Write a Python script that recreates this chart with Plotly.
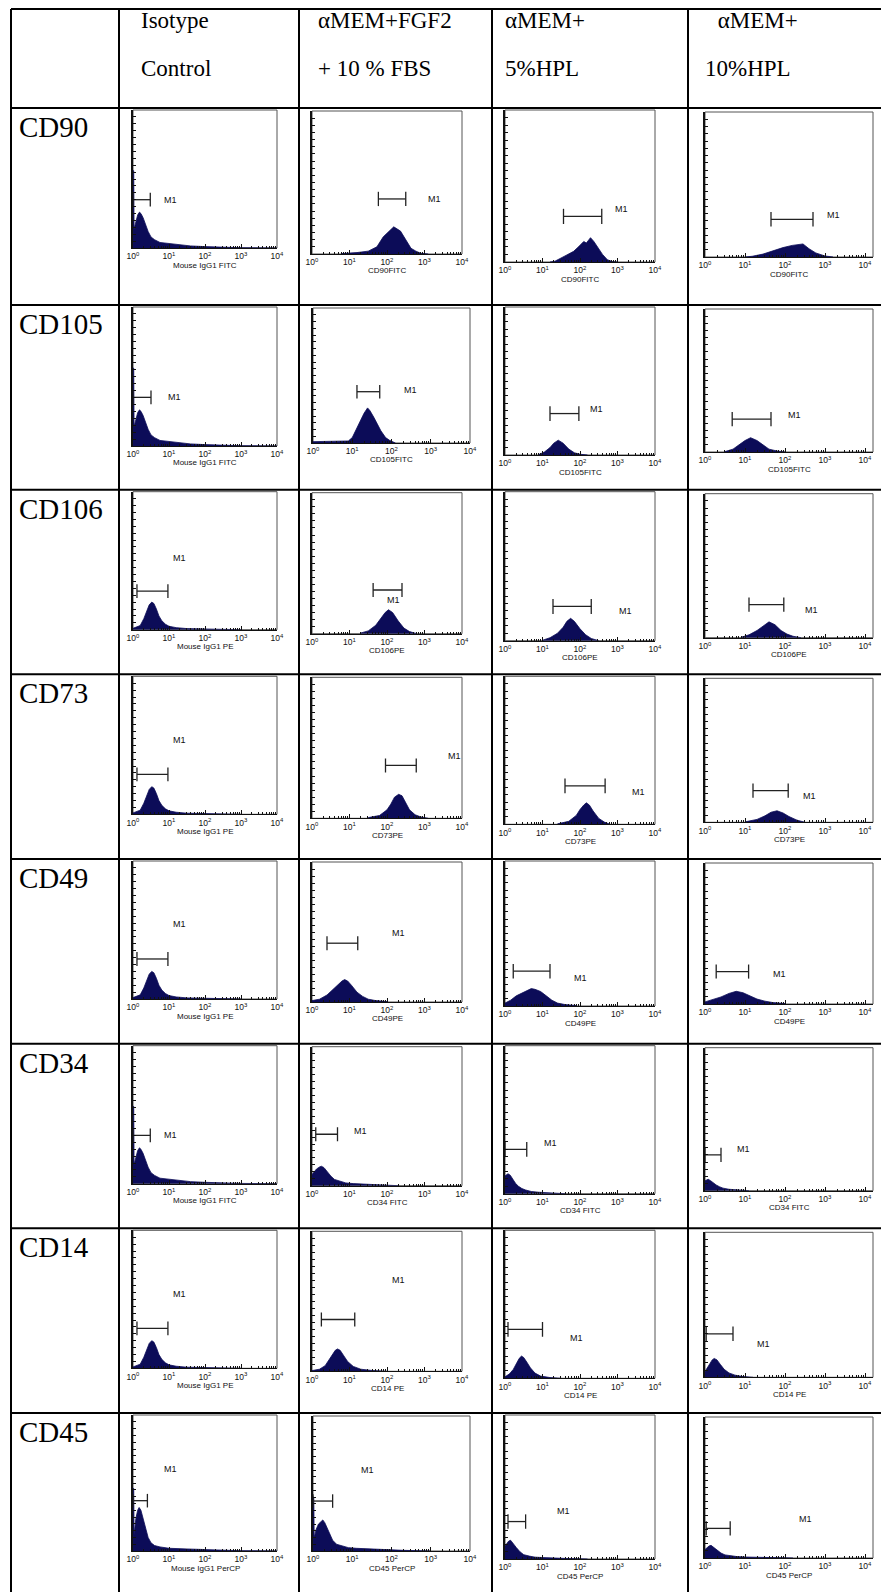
import numpy as np
import plotly.graph_objects as go

W, H = 881, 1592

# ---------------- table text ----------------
markers = ["CD90", "CD105", "CD106", "CD73", "CD49", "CD34", "CD14", "CD45"]
header_line1 = ["Isotype", "αMEM+FGF2", "αMEM+", " αMEM+"]
header_line2 = ["Control", "+ 10 % FBS", "5%HPL", "10%HPL"]
axis_labels = [
    ["Mouse IgG1 FITC", "CD90FITC", "CD90FITC", "CD90FITC"],
    ["Mouse IgG1 FITC", "CD105FITC", "CD105FITC", "CD105FITC"],
    ["Mouse IgG1 PE", "CD106PE", "CD106PE", "CD106PE"],
    ["Mouse IgG1 PE", "CD73PE", "CD73PE", "CD73PE"],
    ["Mouse IgG1 PE", "CD49PE", "CD49PE", "CD49PE"],
    ["Mouse IgG1 FITC", "CD34 FITC", "CD34 FITC", "CD34 FITC"],
    ["Mouse IgG1 PE", "CD14 PE", "CD14 PE", "CD14 PE"],
    ["Mouse IgG1 PerCP", "CD45 PerCP", "CD45 PerCP", "CD45 PerCP"],
]
tick_vals = [0, 1, 2, 3, 4]
tick_text = ["10<sup>0</sup>", "10<sup>1</sup>", "10<sup>2</sup>", "10<sup>3</sup>", "10<sup>4</sup>"]

# ---------------- histograms: x = log10 intensity, y = % of full scale ----------------
iso_fitc_x = [0, 0.02, 0.03, 0.08, 0.13, 0.18, 0.22, 0.28, 0.35, 0.42, 0.5, 0.6, 0.75, 0.9, 1.1, 1.3, 1.6, 2.0, 2.5, 3.0, 4.0]
iso_fitc_y = [56, 56, 14, 20, 24, 26, 25, 22, 17, 12, 8, 6, 4, 3.5, 3, 2.5, 1.5, 1, 0.5, 0.2, 0]
iso_pe_x = [0, 0.2, 0.3, 0.38, 0.45, 0.52, 0.58, 0.65, 0.72, 0.8, 0.9, 1.0, 1.2, 1.5, 2.0, 3.0]
iso_pe_y = [1, 3, 8, 14, 18, 20, 19, 15, 10, 6.5, 4, 2.5, 1.5, 0.8, 0.4, 0]
iso_percp_x = [0, 0.02, 0.03, 0.08, 0.13, 0.17, 0.22, 0.28, 0.35, 0.42, 0.5, 0.6, 0.75, 1.0, 1.5, 2.0, 2.5, 3.0, 4.0]
iso_percp_y = [46, 46, 12, 24, 30, 32, 30, 24, 16, 10, 6, 4, 3, 2, 1.5, 1, 0.5, 0.2, 0]

cd90_fgf_x = [0.8, 1.0, 1.2, 1.5, 1.73, 1.9, 2.09, 2.18, 2.36, 2.5, 2.64, 2.77, 2.9, 3.1]
cd90_fgf_y = [0.3, 0.6, 1, 2, 5, 12, 17, 19, 16, 10, 4, 2, 0.5, 0]
cd90_hpl5_x = [1.2, 1.33, 1.6, 1.83, 1.96, 2.1, 2.17, 2.28, 2.37, 2.46, 2.6, 2.73, 2.86, 3.0]
cd90_hpl5_y = [0, 0.5, 4, 7, 10, 13.5, 12.5, 16, 13.5, 10, 5, 1.5, 0.3, 0]
cd90_hpl10_x = [1.0, 1.18, 1.45, 1.73, 1.95, 2.18, 2.32, 2.45, 2.6, 2.77, 3.0, 3.2]
cd90_hpl10_y = [0, 0.5, 2, 4.5, 6.5, 8, 8.7, 9, 5.7, 2.8, 0.7, 0]

cd105_fgf_x = [0.0, 0.5, 0.9, 1.0, 1.15, 1.3, 1.39, 1.45, 1.55, 1.65, 1.73, 1.85, 1.95, 2.1]
cd105_fgf_y = [1, 1, 1.5, 4, 13, 22, 26, 24, 19, 13, 9, 4, 2, 0]
cd105_hpl5_x = [0.9, 1.05, 1.2, 1.3, 1.42, 1.55, 1.7, 1.85, 2.0, 2.2]
cd105_hpl5_y = [0.3, 2, 5, 8, 10, 8, 4, 1.5, 0.5, 0]
cd105_hpl10_x = [0.5, 0.7, 0.85, 1.0, 1.14, 1.3, 1.45, 1.6, 1.8, 2.0]
cd105_hpl10_y = [0.3, 2, 5, 8, 10, 8, 5, 2, 0.7, 0]

cd106_fgf_x = [1.3, 1.5, 1.7, 1.85, 1.95, 2.04, 2.15, 2.3, 2.45, 2.6, 2.8]
cd106_fgf_y = [0.5, 2, 6, 11, 15, 17, 15, 9, 4, 1.5, 0]
cd106_hpl5_x = [1.0, 1.2, 1.4, 1.55, 1.65, 1.75, 1.85, 2.0, 2.15, 2.3, 2.5]
cd106_hpl5_y = [0.3, 2, 5, 9, 13, 15, 13, 8, 4, 1.5, 0]
cd106_hpl10_x = [0.9, 1.1, 1.3, 1.45, 1.6, 1.75, 1.9, 2.05, 2.2, 2.4]
cd106_hpl10_y = [0.3, 2, 5, 8, 11, 9, 5, 2.5, 1, 0]

cd73_fgf_x = [1.5, 1.8, 2.0, 2.1, 2.2, 2.31, 2.4, 2.5, 2.6, 2.75, 2.9, 3.1]
cd73_fgf_y = [0.5, 2, 6, 10, 15, 17, 16, 11, 6, 2.5, 1, 0]
cd73_hpl5_x = [1.4, 1.7, 1.9, 2.0, 2.1, 2.17, 2.25, 2.35, 2.5, 2.65, 2.8]
cd73_hpl5_y = [0.3, 2, 6, 10, 13, 14.5, 13, 9, 4, 1.5, 0]
cd73_hpl10_x = [1.0, 1.3, 1.5, 1.65, 1.8, 1.95, 2.1, 2.3, 2.5]
cd73_hpl10_y = [0.3, 2, 4.5, 7, 8, 6.5, 4, 1.5, 0]

cd49_fgf_x = [0.0, 0.2, 0.4, 0.55, 0.7, 0.8, 0.87, 0.95, 1.05, 1.2, 1.35, 1.5, 1.7, 2.0]
cd49_fgf_y = [1, 2, 5, 9, 13, 15, 16, 15, 12, 7, 4, 2, 1, 0.3]
cd49_hpl5_x = [0.0, 0.15, 0.3, 0.45, 0.6, 0.7, 0.8, 0.95, 1.1, 1.25, 1.4, 1.6, 1.9]
cd49_hpl5_y = [2, 4, 7, 9, 11, 12, 11.5, 10, 7, 4, 2, 1, 0.3]
cd49_hpl10_x = [0.0, 0.2, 0.4, 0.6, 0.78, 0.95, 1.1, 1.3, 1.5, 1.7, 2.0]
cd49_hpl10_y = [1.5, 3, 5, 7.5, 9, 8, 6, 3.5, 2, 1, 0.3]

cd34_fgf_x = [0.0, 0.05, 0.12, 0.2, 0.25, 0.32, 0.4, 0.5, 0.6, 0.75, 0.9, 1.1, 1.4, 1.8, 2.3]
cd34_fgf_y = [8, 10, 12, 13.5, 14, 13, 10, 7, 4.5, 3, 2, 1.5, 1, 0.5, 0]
cd34_hpl5_x = [0, 0.04, 0.08, 0.14, 0.2, 0.28, 0.36, 0.45, 0.55, 0.7, 0.9, 1.2, 1.6]
cd34_hpl5_y = [12, 13, 13.5, 12.5, 10, 7, 5, 3.5, 2.5, 1.5, 1, 0.5, 0]
cd34_hpl10_x = [0, 0.04, 0.08, 0.14, 0.2, 0.28, 0.36, 0.45, 0.6, 0.8, 1.1]
cd34_hpl10_y = [7, 7.5, 8, 7, 5.5, 4, 2.8, 1.8, 1, 0.5, 0]

cd14_fgf_x = [0.0, 0.2, 0.35, 0.45, 0.55, 0.62, 0.68, 0.75, 0.85, 0.95, 1.1, 1.3, 1.6, 2.0]
cd14_fgf_y = [0.5, 1.5, 4, 8, 12, 15, 16, 15, 11, 7, 3.5, 1.5, 0.6, 0]
cd14_hpl5_x = [0.0, 0.12, 0.22, 0.3, 0.38, 0.44, 0.5, 0.58, 0.68, 0.8, 0.95, 1.2, 1.5]
cd14_hpl5_y = [1, 3, 6, 10, 13.5, 15, 14, 11, 7, 3.5, 1.5, 0.5, 0]
cd14_hpl10_x = [0.0, 0.06, 0.12, 0.18, 0.23, 0.3, 0.38, 0.48, 0.6, 0.75, 0.95, 1.2]
cd14_hpl10_y = [4, 7, 10, 12, 13, 12, 9, 5.5, 3, 1.5, 0.5, 0]

cd45_fgf_x = [0, 0.02, 0.03, 0.08, 0.14, 0.2, 0.25, 0.3, 0.36, 0.43, 0.5, 0.6, 0.75, 0.9, 1.1, 1.4, 1.8, 2.3, 3.0]
cd45_fgf_y = [40, 40, 10, 16, 20, 22, 23, 21, 17, 12, 8, 5, 3.5, 2.5, 2, 1.5, 1, 0.5, 0]
cd45_hpl5_x = [0, 0.05, 0.1, 0.15, 0.22, 0.3, 0.4, 0.5, 0.65, 0.8, 1.0, 1.3, 1.7, 2.2]
cd45_hpl5_y = [9, 11, 12.5, 13, 11, 8, 5, 3, 2, 1.3, 1, 0.6, 0.3, 0]
cd45_hpl10_x = [0, 0.05, 0.1, 0.15, 0.22, 0.3, 0.4, 0.5, 0.65, 0.8, 1.0, 1.3, 1.7, 2.2]
cd45_hpl10_y = [6, 7.5, 8.5, 9, 7.5, 5.5, 3.5, 2.2, 1.5, 1, 0.7, 0.5, 0.3, 0]

# ---------------- M1 gates: [row][column] ----------------
m1_lo = [[0, 1.77, 1.56, 1.65], [0, 1.12, 1.2, 0.68], [0.11, 1.63, 1.28, 1.1], [0.11, 1.96, 1.6, 1.2],
         [0.11, 0.4, 0.22, 0.28], [0, 0.1, 0, 0], [0.11, 0.25, 0.08, 0.03], [0, 0, 0.08, 0.03]]
m1_hi = [[0.48, 2.5, 2.58, 2.7], [0.5, 1.7, 1.97, 1.65], [0.97, 2.4, 2.3, 1.97], [0.97, 2.78, 2.67, 2.08],
         [0.97, 1.22, 1.2, 1.09], [0.48, 0.68, 0.58, 0.4], [0.97, 1.14, 1.0, 0.7], [0.4, 0.5, 0.55, 0.63]]
m1_level = [[35, 38.5, 30, 26], [35, 38, 28, 23], [28, 31, 23, 23], [29, 37.5, 26, 22],
            [29, 42, 24, 23], [35, 37, 30, 25], [29, 37, 33, 30], [37, 37, 26, 21]]
m1_text_x = [[1.05, 3.27, 3.1, 3.2], [1.15, 2.48, 2.45, 2.23], [1.3, 2.18, 3.2, 2.66], [1.3, 3.8, 3.55, 2.6],
             [1.3, 2.3, 2.0, 1.85], [1.05, 1.28, 1.2, 0.96], [1.3, 2.3, 1.9, 1.47], [1.05, 1.39, 1.55, 2.5]]
m1_text_y = [[35, 38.5, 35, 29], [35, 39, 31, 26], [52, 24, 20, 19], [54, 44, 22, 18],
             [54, 49, 19, 21], [35, 39, 34, 29], [54, 65, 27, 23], [60, 60, 33, 28]]

hist_x = [
    [iso_fitc_x, cd90_fgf_x, cd90_hpl5_x, cd90_hpl10_x],
    [iso_fitc_x, cd105_fgf_x, cd105_hpl5_x, cd105_hpl10_x],
    [iso_pe_x, cd106_fgf_x, cd106_hpl5_x, cd106_hpl10_x],
    [iso_pe_x, cd73_fgf_x, cd73_hpl5_x, cd73_hpl10_x],
    [iso_pe_x, cd49_fgf_x, cd49_hpl5_x, cd49_hpl10_x],
    [iso_fitc_x, cd34_fgf_x, cd34_hpl5_x, cd34_hpl10_x],
    [iso_pe_x, cd14_fgf_x, cd14_hpl5_x, cd14_hpl10_x],
    [iso_percp_x, cd45_fgf_x, cd45_hpl5_x, cd45_hpl10_x],
]
hist_y = [
    [iso_fitc_y, cd90_fgf_y, cd90_hpl5_y, cd90_hpl10_y],
    [iso_fitc_y, cd105_fgf_y, cd105_hpl5_y, cd105_hpl10_y],
    [iso_pe_y, cd106_fgf_y, cd106_hpl5_y, cd106_hpl10_y],
    [iso_pe_y, cd73_fgf_y, cd73_hpl5_y, cd73_hpl10_y],
    [iso_pe_y, cd49_fgf_y, cd49_hpl5_y, cd49_hpl10_y],
    [iso_fitc_y, cd34_fgf_y, cd34_hpl5_y, cd34_hpl10_y],
    [iso_pe_y, cd14_fgf_y, cd14_hpl5_y, cd14_hpl10_y],
    [iso_percp_y, cd45_fgf_y, cd45_hpl5_y, cd45_hpl10_y],
]

# ---------------- geometry (pixels) ----------------
col_lines = [11, 119, 299, 492, 688]
row_top = [108, 305, 489.7, 674.3, 859, 1043.7, 1228.3, 1413]
table_top = 9
frame_lr = [(133, 277), (312, 462), (505, 655), (705, 873)]
x_max = [4, 4, 4, 4.2]
frame_top_off = [2, 3, 2, 4]
frame_bot_off = [[140, 146, 154, 149], [141, 138, 150, 147], [140, 144, 151, 148], [140, 144, 150, 148],
                 [140, 143, 147, 145], [140, 142, 150, 147], [140, 143, 150, 149], [138, 138, 146, 145]]

NAVY = "#0c0c58"
SERIF = "Liberation Serif"
SANS = "Liberation Sans"
INK = "#111111"


def px(x):
    return x / W


def py(y):
    return 1 - y / H


minor_vals = [d + np.log10(k) for d in range(4) for k in range(2, 10)]

fig = go.Figure()
layout_axes = {}
annotations = []
shapes = []

n = 0
for r in range(8):
    for c in range(4):
        n += 1
        sfx = "" if n == 1 else str(n)
        xa = "x" + sfx
        ya = "y" + sfx
        l, rr = frame_lr[c]
        if c == 1 and r in (1, 7):
            l, rr = 313, 470
        t = row_top[r] + frame_top_off[c]
        b = row_top[r] + frame_bot_off[r][c]
        layout_axes["xaxis" + sfx] = dict(
            domain=[px(l), px(rr)], range=[0, x_max[c]], anchor=ya,
            showline=True, linecolor=INK, linewidth=1.4, mirror=False,
            ticks="inside", ticklen=4, tickwidth=1, tickcolor=INK,
            tickvals=tick_vals, ticktext=tick_text,
            tickfont=dict(family=SANS, size=8.5, color=INK),
            minor=dict(tickvals=minor_vals, ticks="inside", ticklen=2, tickcolor=INK),
            showgrid=False, zeroline=False, fixedrange=True, automargin=False,
        )
        layout_axes["yaxis" + sfx] = dict(
            domain=[py(b), py(t)], range=[0, 100], anchor=xa,
            showline=True, linecolor=INK, linewidth=1.6, mirror=False,
            ticks="inside", ticklen=3, dtick=5, tickcolor=INK,
            showticklabels=False, showgrid=False, zeroline=False, fixedrange=True, automargin=False,
        )
        # thin grey frame (top / right sides)
        shapes.append(dict(type="rect", xref=xa + " domain", yref=ya + " domain", x0=0, x1=1, y0=0, y1=1,
                           line=dict(color="#555555", width=1), layer="below"))
        fig.add_trace(go.Scatter(
            x=hist_x[r][c], y=hist_y[r][c], mode="lines", fill="tozeroy",
            line=dict(color=NAVY, width=0.8), fillcolor=NAVY,
            xaxis=xa, yaxis=ya, hoverinfo="skip", showlegend=False,
        ))
        lo, hi, lv = m1_lo[r][c], m1_hi[r][c], m1_level[r][c]
        cap = 5
        fig.add_trace(go.Scatter(
            x=[lo, hi, None, lo, lo, None, hi, hi],
            y=[lv, lv, None, lv - cap, lv + cap, None, lv - cap, lv + cap],
            mode="lines", line=dict(color="#222222", width=1.3),
            xaxis=xa, yaxis=ya, hoverinfo="skip", showlegend=False,
        ))
        annotations.append(dict(
            x=m1_text_x[r][c], y=m1_text_y[r][c], xref=xa, yref=ya, text="M1",
            showarrow=False, font=dict(family=SANS, size=9, color=INK),
        ))
        # axis title under the tick labels
        annotations.append(dict(
            x=px((l + rr) / 2), y=py(b + 17), xref="paper", yref="paper", text=axis_labels[r][c],
            xanchor="center", yanchor="middle", showarrow=False,
            font=dict(family=SANS, size=8, color=INK),
        ))

# table lines
for xl in col_lines:
    shapes.append(dict(type="line", xref="paper", yref="paper", x0=px(xl), x1=px(xl),
                       y0=py(table_top), y1=py(H + 5), line=dict(color="black", width=2)))
for yl in [table_top] + row_top:
    shapes.append(dict(type="line", xref="paper", yref="paper", x0=px(col_lines[0]), x1=1.01,
                       y0=py(yl), y1=py(yl), line=dict(color="black", width=2)))

# header text
head_x1 = [139, 316, 503, 710]
head_x2 = [139, 316, 503, 703]
for c in range(4):
    annotations.append(dict(x=px(head_x1[c]), y=py(20), xref="paper", yref="paper", text=header_line1[c],
                            xanchor="left", yanchor="middle", showarrow=False,
                            font=dict(family=SERIF, size=23, color="black")))
    annotations.append(dict(x=px(head_x2[c]), y=py(68), xref="paper", yref="paper", text=header_line2[c],
                            xanchor="left", yanchor="middle", showarrow=False,
                            font=dict(family=SERIF, size=23, color="black")))
for r in range(8):
    annotations.append(dict(x=px(17), y=py(row_top[r] + 19), xref="paper", yref="paper", text=markers[r],
                            xanchor="left", yanchor="middle", showarrow=False,
                            font=dict(family=SERIF, size=29, color="black")))

fig.update_layout(
    width=W, height=H, margin=dict(l=0, r=0, t=0, b=0),
    paper_bgcolor="white", plot_bgcolor="white",
    showlegend=False, annotations=annotations, shapes=shapes, **layout_axes,
)
fig.write_html("out.html")
